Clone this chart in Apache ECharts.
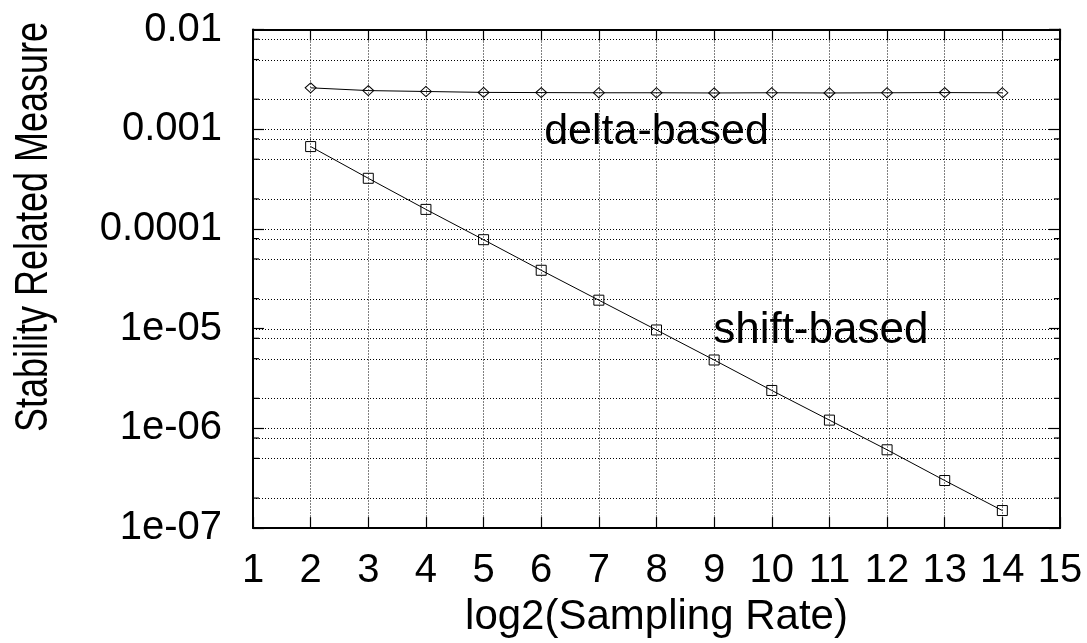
<!DOCTYPE html>
<html><head><meta charset="utf-8">
<script src="https://cdn.jsdelivr.net/npm/echarts@6/dist/echarts.min.js"></script>
<style>html,body{margin:0;padding:0;background:#fff}#c{width:1087px;height:643px}</style>
</head><body><div id="c"></div>
<script>
// ---- data ----
const xValues = [2, 3, 4, 5, 6, 7, 8, 9, 10, 11, 12, 13, 14];
const deltaBased = [0.0026, 0.00244, 0.00239, 0.00234, 0.00233, 0.00232, 0.00232, 0.00231, 0.00232, 0.00231, 0.00232, 0.00233, 0.00232];
const shiftBased = [6.7e-4, 3.22e-4, 1.57e-4, 7.8e-5, 3.85e-5, 1.93e-5, 9.7e-6, 4.85e-6, 2.4e-6, 1.21e-6, 6.1e-7, 3.0e-7, 1.5e-7];
const seriesNames = ['delta-based', 'shift-based'];
const labelAnchors = [[8, 9.3e-4], [10.85, 9.6e-6]];
const yTickLabels = ['1e-07', '1e-06', '1e-05', '0.0001', '0.001', '0.01'];
const decadeExponents = [-7, -6, -5, -4, -3];
const minorMantissas = [2, 5, 8];
const xTitle = 'log2(Sampling Rate)';
const yTitle = 'Stability Related Measure';

const FONT = '"Liberation Sans", Arial, Helvetica, sans-serif';
const minorVals = [];
decadeExponents.forEach(e => minorMantissas.forEach(m => minorVals.push(m * Math.pow(10, e))));
const majorVals = decadeExponents.slice(1).map(e => Math.pow(10, e));

const chart = echarts.init(document.getElementById('c'), null, {renderer: 'canvas'});

const baseX = {
  type: 'value', min: 1, max: 15, interval: 1,
  axisLine: {show: true, onZero: false, lineStyle: {color: '#000', width: 2}},
  axisTick: {show: true, inside: true, length: 11, lineStyle: {color: '#000', width: 1.2}},
};
const baseY = {
  type: 'log', logBase: 10, min: 1e-7, max: 1e-2, splitNumber: 5,
  axisLine: {show: true, onZero: false, lineStyle: {color: '#000', width: 2}},
  axisTick: {show: true, inside: true, length: 11, lineStyle: {color: '#000', width: 1.2}},
  splitLine: {show: false}
};

function hGridRender(params, api) {
  const v = api.value(1);
  const major = api.value(2) === 1;
  const p0 = api.coord([1, v]);
  const p1 = api.coord([15, v]);
  const children = [{
    type: 'line', shape: {x1: p0[0], y1: Math.round(p0[1]) + 0.5, x2: p1[0], y2: Math.round(p0[1]) + 0.5},
    style: {stroke: '#000', lineWidth: 1, lineDash: [1, 2]}
  }];
  if (!major) {
    children.push({type: 'line', shape: {x1: p0[0], y1: p0[1], x2: p0[0] + 6, y2: p0[1]}, style: {stroke: '#000', lineWidth: 1.2}});
    children.push({type: 'line', shape: {x1: p1[0], y1: p1[1], x2: p1[0] - 6, y2: p1[1]}, style: {stroke: '#000', lineWidth: 1.2}});
  }
  return {type: 'group', children};
}

const gridData = minorVals.map(v => [1, v, 0]).concat(majorVals.map(v => [1, v, 1]));

chart.setOption({
  animation: false,
  backgroundColor: '#fff',
  grid: {left: 253, right: 27, top: 29.5, bottom: 111, containLabel: false},
  xAxis: [
    Object.assign({}, baseX, {
      position: 'bottom',
      axisLabel: {show: true, color: '#000', fontSize: 40, fontFamily: FONT, margin: 23},
      splitLine: {show: true, lineStyle: {color: '#000', width: 1, type: [1, 2]}},
      name: xTitle, nameLocation: 'middle', nameGap: 63,
      nameTextStyle: {color: '#000', fontSize: 42, fontFamily: FONT}
    }),
    Object.assign({}, baseX, {position: 'top', axisLabel: {show: false}, splitLine: {show: false}})
  ],
  yAxis: [
    Object.assign({}, baseY, {
      position: 'left',
      axisLabel: {
        show: true, color: '#000', fontSize: 40, fontFamily: FONT, margin: 31,
        formatter: v => yTickLabels[Math.round(Math.log10(v)) + 7]
      }
    }),
    Object.assign({}, baseY, {position: 'right', axisLabel: {show: false}})
  ],
  graphic: [{
    type: 'text', x: 34, y: 227, rotation: Math.PI / 2, scaleY: 1.3,
    style: {text: yTitle, fill: '#000', font: '36px ' + FONT, align: 'center', verticalAlign: 'middle'}
  }],
  series: [
    {
      type: 'custom', name: 'grid', xAxisIndex: 0, yAxisIndex: 0, z: 1, silent: true,
      renderItem: hGridRender, data: gridData, clip: false
    },
    {
      type: 'line', name: seriesNames[0], z: 3,
      data: xValues.map((x, i) => [x, deltaBased[i]]),
      symbol: 'diamond', symbolSize: [11, 10],
      lineStyle: {color: '#000', width: 1},
      itemStyle: {color: 'rgba(0,0,0,0)', borderColor: '#000', borderWidth: 1},
      markPoint: {
        symbol: 'circle', symbolSize: 0,
        label: {show: true, formatter: seriesNames[0], color: '#000', fontSize: 43, fontFamily: FONT, position: 'inside'},
        data: [{coord: labelAnchors[0]}]
      }
    },
    {
      type: 'line', name: seriesNames[1], z: 3,
      data: xValues.map((x, i) => [x, shiftBased[i]]),
      symbol: 'rect', symbolSize: 10,
      lineStyle: {color: '#000', width: 1},
      itemStyle: {color: 'rgba(0,0,0,0)', borderColor: '#000', borderWidth: 1},
      markPoint: {
        symbol: 'circle', symbolSize: 0,
        label: {show: true, formatter: seriesNames[1], color: '#000', fontSize: 44, fontFamily: FONT, position: 'inside'},
        data: [{coord: labelAnchors[1]}]
      }
    }
  ]
});
</script></body></html>
